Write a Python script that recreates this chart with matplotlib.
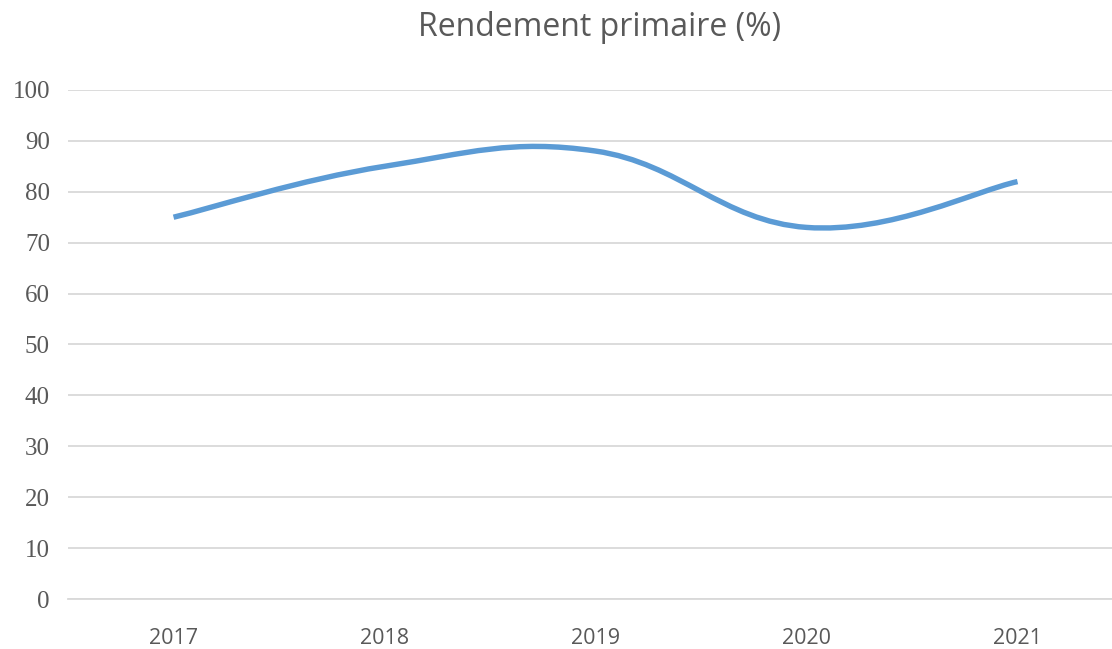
import matplotlib
matplotlib.use("Agg")
import matplotlib.pyplot as plt
from matplotlib.path import Path
from matplotlib.patches import PathPatch

years = ["2017", "2018", "2019", "2020", "2021"]
rendement = [75, 85, 88, 73, 82]
yticks = [0, 10, 20, 30, 40, 50, 60, 70, 80, 90, 100]

LINE = "#5B9BD5"
GRID = "#D9D9D9"
TEXT = "#595959"


def smooth_path(xs, ys, f=0.2):
    # Excel-like smoothed line: cubic bezier through the points
    pts = list(zip(xs, ys))
    verts = [pts[0]]
    codes = [Path.MOVETO]
    n = len(pts)
    for i in range(n - 1):
        p0 = pts[i - 1] if i > 0 else pts[i]
        p1 = pts[i]
        p2 = pts[i + 1]
        p3 = pts[i + 2] if i + 2 < n else pts[i + 1]
        c1 = (p1[0] + (p2[0] - p0[0]) * f, p1[1] + (p2[1] - p0[1]) * f)
        c2 = (p2[0] - (p3[0] - p1[0]) * f, p2[1] - (p3[1] - p1[1]) * f)
        verts += [c1, c2, p2]
        codes += [Path.CURVE4] * 3
    return Path(verts, codes)


fig = plt.figure(figsize=(11.12, 6.49), dpi=100)
ax = fig.add_axes([0.0612, 0.0770, 0.9487, 0.7844])

x = list(range(len(years)))
patch = PathPatch(smooth_path(x, rendement), facecolor="none", edgecolor=LINE,
                  linewidth=3.9, capstyle="butt", joinstyle="round", zorder=3)
ax.add_patch(patch)

ax.set_xlim(-0.5, len(years) - 0.5)
ax.set_ylim(0, 100)
ax.set_yticks(yticks)
ax.set_xticks(x)
ax.set_xticklabels(years, fontsize=15.5, color=TEXT, family="Open Sans")
ax.set_yticklabels([str(v) for v in yticks], fontsize=18, color=TEXT, family="Liberation Serif")
ax.tick_params(axis="both", length=0)
ax.tick_params(axis="y", pad=13)
ax.tick_params(axis="x", pad=21)

ax.grid(axis="y", color=GRID, linewidth=1.3)
ax.set_axisbelow(True)
for s in ["top", "right", "left"]:
    ax.spines[s].set_visible(False)
ax.spines["bottom"].set_color(GRID)
ax.spines["bottom"].set_linewidth(1.3)

fig.text(0.539, 0.957, "Rendement primaire (%)", ha="center", va="center",
         fontsize=23, color=TEXT, family="Open Sans")

fig.savefig("out.png", dpi=100)
